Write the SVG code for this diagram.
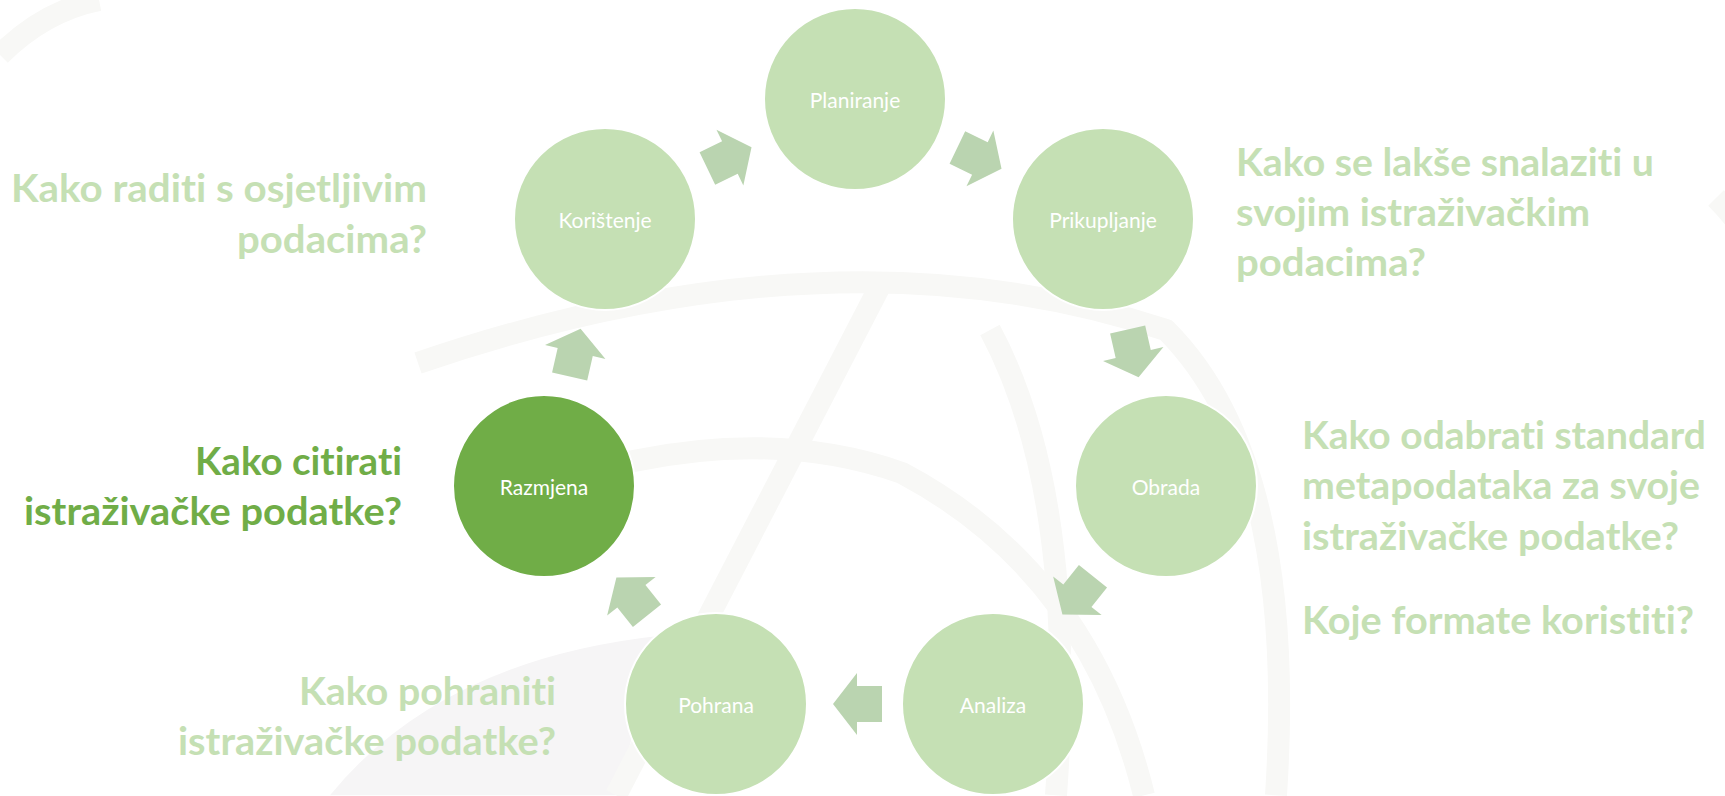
<svg xmlns="http://www.w3.org/2000/svg" width="1725" height="796" viewBox="0 0 1725 796">
<defs>
<style>
.node{fill:#c5e0b4;stroke:#ffffff;stroke-width:2}
.active{fill:#70ad47}
.lbl{font-family:Lato,"Open Sans","Liberation Sans",sans-serif;font-size:21px;fill:#ffffff;text-anchor:middle;dominant-baseline:central;font-variant-ligatures:none}
.q{font-family:Lato,"Open Sans","Liberation Sans",sans-serif;font-weight:bold;font-size:39px;fill:#c5e0b4;font-variant-ligatures:none;font-feature-settings:"liga" 0,"dlig" 0}
.qa{fill:#70ad47}
.r{text-anchor:end}
.arr{fill:#bad4b0}
.bg{fill:none;stroke:#f8f8f6;stroke-width:20}
</style>
<polygon id="arrow" points="-24,-18 1,-18 1,-31 25,0 1,31 1,18 -24,18"/>
</defs>
<rect width="1725" height="796" fill="#ffffff"/>
<g id="background" transform="scale(1.1)">
<path d="M300,723 Q400,600 600,578 L560,723 Z" fill="#f6f5f6"/>
<path class="bg" d="M380,330 Q760,200 1060,300 Q1180,420 1160,723"/>
<path class="bg" d="M420,470 Q650,370 820,430 Q990,520 1040,723"/>
<path class="bg" d="M800,260 L560,723"/>
<path class="bg" d="M900,300 Q980,450 960,723" stroke-width="12"/>
<path class="bg" d="M0,50 Q40,10 90,0" stroke-width="12"/>
<path class="bg" d="M1560,180 Q1680,300 1690,723" stroke-width="12"/>
</g>
<g id="connectors">
<use href="#arrow" class="arr" transform="translate(979,158) rotate(25.7)"/>
<use href="#arrow" class="arr" transform="translate(1133,353) rotate(77.1)"/>
<use href="#arrow" class="arr" transform="translate(1078,595) rotate(128.6)"/>
<use href="#arrow" class="arr" transform="translate(858,704) rotate(180)"/>
<use href="#arrow" class="arr" transform="translate(632,597) rotate(231.4)"/>
<use href="#arrow" class="arr" transform="translate(575,353) rotate(282.9)"/>
<use href="#arrow" class="arr" transform="translate(729,158) rotate(334.3)"/>
</g>
<g id="planiranje"><circle class="node" cx="855" cy="99" r="91"/><text class="lbl" x="855" y="99">Planiranje</text></g>
<g id="prikupljanje"><circle class="node" cx="1103" cy="219" r="91"/><text class="lbl" x="1103" y="219">Prikupljanje</text></g>
<g id="obrada"><circle class="node" cx="1166" cy="486" r="91"/><text class="lbl" x="1166" y="486">Obrada</text></g>
<g id="analiza"><circle class="node" cx="993" cy="704" r="91"/><text class="lbl" x="993" y="704">Analiza</text></g>
<g id="pohrana"><circle class="node" cx="716" cy="704" r="91"/><text class="lbl" x="716" y="704">Pohrana</text></g>
<g id="razmjena"><circle class="node active" cx="544" cy="486" r="91"/><text class="lbl" x="544" y="486">Razmjena</text></g>
<g id="koristenje"><circle class="node" cx="605" cy="219" r="91"/><text class="lbl" x="605" y="219">Korištenje</text></g>
<g id="questions">
<text class="q r" x="427" y="202" textLength="416" lengthAdjust="spacingAndGlyphs">Kako raditi s osjetljivim</text>
<text class="q r" x="427" y="253" textLength="190" lengthAdjust="spacingAndGlyphs">podacima?</text>
<text class="q" x="1236" y="176" textLength="418" lengthAdjust="spacingAndGlyphs">Kako se lakše snalaziti u</text>
<text class="q" x="1236" y="226" textLength="354" lengthAdjust="spacingAndGlyphs">svojim istraživačkim</text>
<text class="q" x="1236" y="276" textLength="190" lengthAdjust="spacingAndGlyphs">podacima?</text>
<text class="q qa r" x="402" y="475" textLength="207" lengthAdjust="spacingAndGlyphs">Kako citirati</text>
<text class="q qa r" x="402" y="525" textLength="378" lengthAdjust="spacingAndGlyphs">istraživačke podatke?</text>
<text class="q" x="1302" y="449" textLength="404" lengthAdjust="spacingAndGlyphs">Kako odabrati standard</text>
<text class="q" x="1302" y="499" textLength="398" lengthAdjust="spacingAndGlyphs">metapodataka za svoje</text>
<text class="q" x="1302" y="550" textLength="377" lengthAdjust="spacingAndGlyphs">istraživačke podatke?</text>
<text class="q" x="1302" y="634" textLength="392" lengthAdjust="spacingAndGlyphs">Koje formate koristiti?</text>
<text class="q r" x="556" y="705" textLength="257" lengthAdjust="spacingAndGlyphs">Kako pohraniti</text>
<text class="q r" x="556" y="755" textLength="378" lengthAdjust="spacingAndGlyphs">istraživačke podatke?</text>
</g>
</svg>
